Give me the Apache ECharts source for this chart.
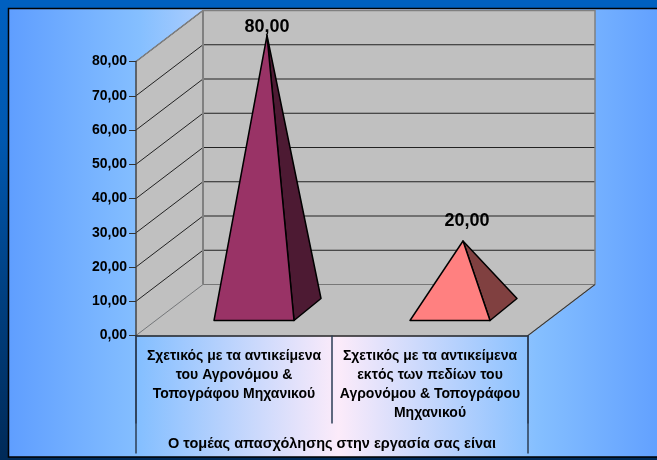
<!DOCTYPE html>
<html>
<head>
<meta charset="utf-8">
<script src="https://cdn.jsdelivr.net/npm/echarts@6/dist/echarts.min.js"></script>
<style>
  html, body { margin: 0; padding: 0; width: 657px; height: 460px; overflow: hidden; }
  body { background: linear-gradient(180deg, #0060c0 0%, #0058b0 30%, #003f80 65%, #002a58 100%); }
  #top { position: absolute; left: 0; top: 0; width: 657px; height: 8px; background: #0060c0; }
  #main { position: absolute; left: 0; top: 0; width: 657px; height: 460px; }
</style>
</head>
<body>
<div id="top"></div>
<div id="main"></div>
<script>
const categories = [
  "Σχετικός με τα αντικείμενα\nτου Αγρονόμου &\nΤοπογράφου Μηχανικού",
  "Σχετικός με τα αντικείμενα\nεκτός των πεδίων του\nΑγρονόμου & Τοπογράφου\nΜηχανικού"
];
const values = [80, 20];
const yTicks = [0, 10, 20, 30, 40, 50, 60, 70, 80];
const axisTitle = "Ο τομέας απασχόλησης στην εργασία σας είναι";

const frontColors = ["#993366", "#ff8080"];
const sideColors = ["#4d1a33", "#804040"];

// depth of the fake 3d box, in pixels
const depthX = 67;
const depthY = -51;
const labelShift = [[0, -8], [4, -20]];
const fmt = (v) => v.toFixed(2).replace(".", ",");
const font = "Liberation Sans, Arial, sans-serif";

function renderBox(params, api) {
  const c = params.coordSys;
  const x0 = c.x, x1 = c.x + c.width;
  const yTop = api.coord([0, yTicks[yTicks.length - 1]])[1];
  const yBot = api.coord([0, 0])[1];
  const wall = { fill: "#c0c0c0" };
  const children = [
    { type: "polygon", shape: { points: [[x0 + depthX, yTop + depthY], [x1 + depthX, yTop + depthY], [x1 + depthX, yBot + depthY], [x0 + depthX, yBot + depthY]] }, style: wall },
    { type: "polygon", shape: { points: [[x0, yTop], [x0 + depthX, yTop + depthY], [x0 + depthX, yBot + depthY], [x0, yBot]] }, style: wall },
    { type: "polygon", shape: { points: [[x0, yBot], [x0 + depthX, yBot + depthY], [x1 + depthX, yBot + depthY], [x1, yBot]] }, style: wall }
  ];
  yTicks.forEach((t) => {
    const y = api.coord([0, t])[1];
    const stroke = t === 0 ? "#777777" : "#222222";
    children.push({ type: "line", shape: { x1: x0, y1: y, x2: x0 + depthX, y2: y + depthY }, style: { stroke: stroke, lineWidth: 1 } });
    if (t < yTicks[yTicks.length - 1]) {
      children.push({ type: "line", shape: { x1: x0 + depthX, y1: y + depthY, x2: x1 + depthX, y2: y + depthY }, style: { stroke: stroke, lineWidth: 1 } });
    }
  });
  // outline of the walls
  children.push({ type: "polyline", shape: { points: [[x0, yTop], [x0 + depthX, yTop + depthY], [x1 + depthX, yTop + depthY], [x1 + depthX, yBot + depthY], [x1, yBot]] }, style: { stroke: "#808080", fill: null, lineWidth: 1.5 } });
  children.push({ type: "line", shape: { x1: x0 + depthX, y1: yTop + depthY, x2: x0 + depthX, y2: yBot + depthY }, style: { stroke: "#808080", lineWidth: 2 } });
  children.push({ type: "line", shape: { x1: x1 + depthX, y1: yBot + depthY, x2: x1, y2: yBot }, style: { stroke: "#333333", lineWidth: 1 } });
  // the outer dividers run past the axis title, the middle one stops above it
  children.push({ type: "line", shape: { x1: x0, y1: yBot, x2: x0, y2: yBot + 118 }, style: { stroke: "#2c3e55", lineWidth: 1.5 } });
  children.push({ type: "line", shape: { x1: x1, y1: yBot, x2: x1, y2: yBot + 118 }, style: { stroke: "#2c3e55", lineWidth: 1.5 } });
  return { type: "group", children: children };
}

function renderPyramid(params, api) {
  const i = api.value(0);
  const bottom = api.coord([i, 0]);
  const top = api.coord([i, api.value(1)]);
  const front = bottom[1] - 15;
  const mid = bottom[0] + 20;
  const fl = [mid - 40, front];
  const fr = [mid + 40, front];
  const br = [fr[0] + 27, front - 22];
  const apex = [bottom[0] + 33, top[1] - 26];
  const edge = { stroke: "#000000", lineWidth: 1.5, lineJoin: "round" };
  return {
    type: "group",
    children: [
      { type: "polygon", shape: { points: [apex, fr, br] }, style: Object.assign({ fill: sideColors[i] }, edge) },
      { type: "polygon", shape: { points: [fl, fr, apex] }, style: Object.assign({ fill: frontColors[i] }, edge) },
      {
        type: "text",
        style: {
          x: apex[0] + labelShift[i][0],
          y: apex[1] + labelShift[i][1],
          text: fmt(api.value(1)),
          fill: "#000000",
          font: "bold 18px " + font,
          align: "center",
          verticalAlign: "middle"
        }
      }
    ]
  };
}

const myChart = echarts.init(document.getElementById("main"));
const option = {
  animation: false,
  graphic: [
    {
      type: "rect",
      z: -10,
      shape: { x: 8.5, y: 8.5, width: 660, height: 448.5 },
      style: {
        stroke: "#000000",
        lineWidth: 1.5,
        fill: new echarts.graphic.LinearGradient(0, 0, 1, 0, [
          { offset: 0, color: "#5f9eff" },
          { offset: 0.2, color: "#85bfff" },
          { offset: 0.5, color: "#fcebfa" },
          { offset: 0.8, color: "#85bfff" },
          { offset: 1, color: "#5f9eff" }
        ])
      }
    }
  ],
  grid: { left: 136, top: 61.5, width: 392, height: 274 },
  xAxis: {
    type: "category",
    data: categories,
    z: 5,
    name: axisTitle,
    nameLocation: "middle",
    nameGap: 101,
    nameTextStyle: { color: "#000000", fontFamily: font, fontWeight: "bold", fontSize: 14.5 },
    axisLine: { lineStyle: { color: "#222222", width: 1.5 } },
    axisTick: { show: true, length: 88, lineStyle: { color: "#2c3e55", width: 1.5 } },
    axisLabel: {
      interval: 0,
      margin: 11,
      color: "#000000",
      fontFamily: font,
      fontWeight: "bold",
      fontSize: 14,
      lineHeight: 19,
      align: "center",
      verticalAlign: "top"
    }
  },
  yAxis: {
    type: "value",
    min: 0,
    max: 80,
    interval: 10,
    z: 5,
    splitLine: { show: false },
    axisLine: { show: true, lineStyle: { color: "#444444", width: 1.5 } },
    axisTick: { show: true, length: 7, lineStyle: { color: "#333333", width: 1 } },
    axisLabel: {
      margin: 9,
      color: "#000000",
      fontFamily: font,
      fontWeight: "bold",
      fontSize: 14,
      formatter: fmt
    }
  },
  series: [
    { type: "custom", z: 1, silent: true, renderItem: renderBox, data: [[0, 0]], encode: { x: 0, y: 1 } },
    {
      type: "custom",
      z: 3,
      silent: true,
      renderItem: renderPyramid,
      data: values.map((v, i) => [i, v]),
      encode: { x: 0, y: 1 }
    }
  ]
};
option && myChart.setOption(option);
</script>
</body>
</html>
